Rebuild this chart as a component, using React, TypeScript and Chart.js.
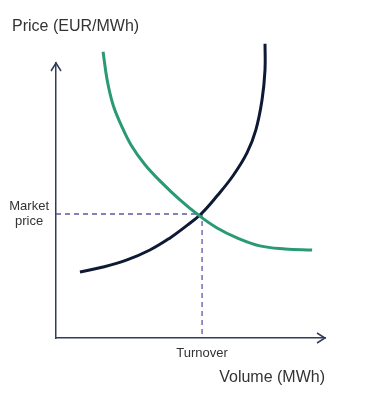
import React, { useEffect, useRef } from "react";
import { Chart, registerables } from "chart.js";

Chart.register(...registerables);

// Supply curve (navy) – volume vs price, in relative units
const supplyX = [8.9, 17.5, 26.4, 34.9, 42.4, 48.0, 53.9, 59.9, 65.8, 71.0, 74.3, 76.6, 77.7, 77.7];
const supplyY = [24.0, 25.8, 28.4, 32.0, 36.4, 40.4, 45.1, 51.7, 59.0, 67.3, 75.7, 86.6, 97.5, 107.0];

// Demand curve (green)
const demandX = [17.5, 19.0, 21.2, 24.2, 27.9, 33.1, 39.4, 46.1, 52.8, 59.9, 67.3, 75.8, 85.1, 95.2];
const demandY = [104.1, 93.9, 84.8, 77.5, 70.2, 63.0, 56.4, 50.2, 44.8, 40.0, 36.4, 33.5, 32.4, 32.0];

// Equilibrium
const marketPrice = 45.1;
const turnover = 54.3;

const yTickLabel = ["Market", "price"];
const xTickLabel = "Turnover";
const yAxisTitle = "Price (EUR/MWh)";
const xAxisTitle = "Volume (MWh)";

const FONT = "'Liberation Sans', Arial, sans-serif";
const TEXT = "#333333";
const AXIS = "#2e3d5c";

const decorPlugin = {
  id: "axisDecor",
  afterDraw(chart: any) {
    const { ctx, chartArea } = chart;
    const { left, right, top, bottom } = chartArea;
    ctx.save();
    ctx.strokeStyle = AXIS;
    ctx.lineWidth = 1.5;
    ctx.beginPath();
    ctx.moveTo(right - 8, bottom - 5);
    ctx.lineTo(right, bottom);
    ctx.lineTo(right - 8, bottom + 5);
    ctx.moveTo(left - 5, top + 8);
    ctx.lineTo(left, top);
    ctx.lineTo(left + 5, top + 8);
    ctx.stroke();
    // y-axis title at top left
    ctx.fillStyle = TEXT;
    ctx.font = "16px " + FONT;
    ctx.textAlign = "left";
    ctx.textBaseline = "middle";
    ctx.fillText(yAxisTitle, left - 44, top - 36);
    ctx.restore();
  },
};

export default function App() {
  const ref = useRef<HTMLCanvasElement | null>(null);

  useEffect(() => {
    const canvas = ref.current;
    if (!canvas) return;
    const toPts = (xs: number[], ys: number[]) => xs.map((x, i) => ({ x, y: ys[i] }));
    const chart = new Chart(canvas, {
      type: "scatter",
      data: {
        datasets: [
          {
            data: toPts(demandX, demandY),
            showLine: true,
            borderColor: "#2a9a74",
            borderWidth: 3,
            pointRadius: 0,
            tension: 0.4,
            clip: false,
          } as any,
          {
            data: toPts(supplyX, supplyY),
            showLine: true,
            borderColor: "#0e1a35",
            borderWidth: 3,
            pointRadius: 0,
            tension: 0.4,
            clip: false,
          } as any,
          {
            data: [
              { x: 0, y: marketPrice },
              { x: turnover, y: marketPrice },
              { x: turnover, y: 0 },
            ],
            showLine: true,
            borderColor: "#5a58a6",
            borderWidth: 1.3,
            borderDash: [5, 4],
            pointRadius: 0,
            tension: 0,
            clip: false,
          } as any,
        ],
      },
      options: {
        responsive: false,
        animation: false,
        layout: { padding: { left: 0, right: 58, top: 63, bottom: 0 } },
        plugins: {
          legend: { display: false },
          tooltip: { enabled: false },
          title: { display: false },
        },
        scales: {
          x: {
            type: "linear",
            min: 0,
            max: 100,
            grid: { display: false, drawTicks: false },
            border: { display: true, color: AXIS, width: 1.5 },
            afterBuildTicks: (scale: any) => {
              scale.ticks = [{ value: turnover }];
            },
            afterFit: (scale: any) => {
              scale.height = 61;
            },
            ticks: {
              callback: () => xTickLabel,
              color: TEXT,
              font: { family: FONT, size: 13 },
              padding: 8,
              maxRotation: 0,
              autoSkip: false,
            },
            title: {
              display: true,
              text: xAxisTitle,
              align: "end",
              color: TEXT,
              font: { family: FONT, size: 16 },
              padding: { top: 0, bottom: 12 },
            },
          },
          y: {
            type: "linear",
            min: 0,
            max: 100,
            grid: { display: false, drawTicks: false },
            border: { display: true, color: AXIS, width: 1.5 },
            afterBuildTicks: (scale: any) => {
              scale.ticks = [{ value: marketPrice }];
            },
            afterFit: (scale: any) => {
              scale.width = 56;
            },
            ticks: {
              callback: () => yTickLabel,
              color: TEXT,
              font: { family: FONT, size: 13 },
              padding: 7,
              crossAlign: "center",
              autoSkip: false,
            },
          },
        },
      },
      plugins: [decorPlugin],
    } as any);
    return () => chart.destroy();
  }, []);

  return (
    <div style={{ position: "absolute", left: 0, top: 0, width: 383, height: 399, background: "#ffffff" }}>
      <canvas ref={ref} width={383} height={399} style={{ display: "block" }} />
    </div>
  );
}
